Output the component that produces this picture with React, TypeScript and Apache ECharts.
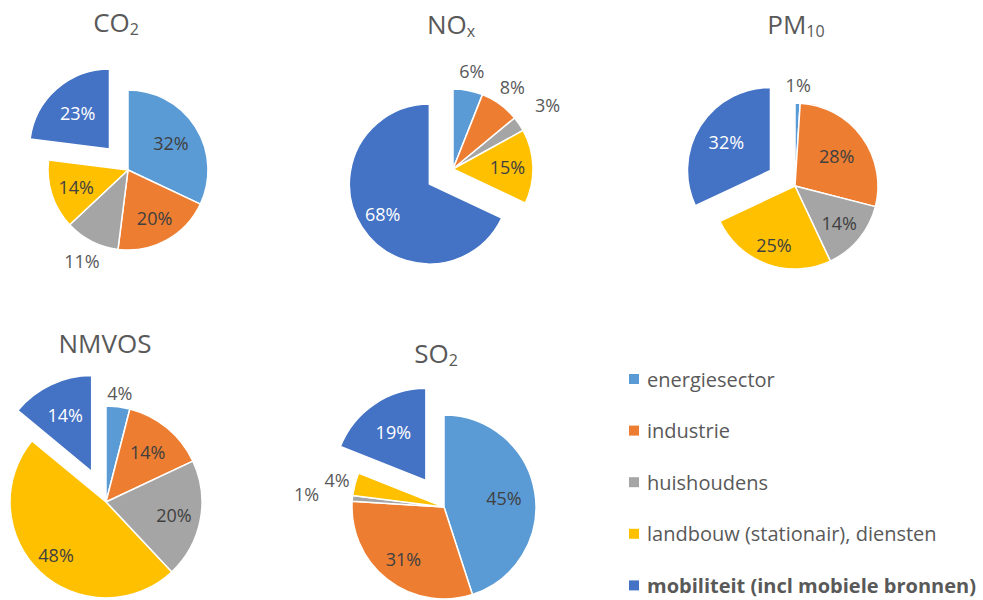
import React, { useEffect, useRef } from 'react';
import * as echarts from 'echarts';

// ---- data ----
const categories = [
  'energiesector',
  'industrie',
  'huishoudens',
  'landbouw (stationair), diensten',
  'mobiliteit (incl mobiele bronnen)',
];
const co2 = [32, 20, 11, 14, 23];
const nox = [6, 8, 3, 15, 68];
const pm10 = [1, 28, 14, 25, 32];
const nmvos = [4, 14, 20, 48, 14];
const so2 = [45, 31, 1, 4, 19];

// ---- style / layout ----
const colors = ['#5B9BD5', '#ED7D31', '#A5A5A5', '#FFC000', '#4472C4'];
const EXPLODED = 4; // mobiliteit slice is pulled out
const EXPLODE_RATIO = 0.35;
const FONT = '"Open Sans", Lato, sans-serif';

const pies = [
  { values: co2, main: 'CO', sub: '2', tx: 116, ty: 22, cx: 128, cy: 170, r: 80, labelR: [0.635, 0.69, 1.27, 0.68, 0.6] },
  { values: nox, main: 'NO', sub: 'x', tx: 451, ty: 24, cx: 453, cy: 169, r: 80, labelR: [1.25, 1.26, 1.43, 0.68, 0.69] },
  { values: pm10, main: 'PM', sub: '10', tx: 796, ty: 24, cx: 795, cy: 186, r: 83, labelR: [1.22, 0.62, 0.69, 0.75, 0.63] },
  { values: nmvos, main: 'NMVOS', sub: '', tx: 105, ty: 343, cx: 106, cy: 502, r: 96, labelR: [1.14, 0.68, 0.72, 0.76, 0.65] },
  { values: so2, main: 'SO', sub: '2', tx: 436, ty: 353, cx: 444, cy: 507, r: 92, labelR: [0.66, 0.72, 1.5, 1.2, 0.63] },
];

function midDir(values: number[], i: number): [number, number] {
  const total = values.reduce((a, b) => a + b, 0);
  let before = 0;
  for (let j = 0; j < i; j++) before += values[j];
  const a = ((before + values[i] / 2) / total) * Math.PI * 2;
  return [Math.sin(a), -Math.cos(a)];
}

function buildSeries(p: any) {
  const [ex, ey] = midDir(p.values, EXPLODED);
  const off = EXPLODE_RATIO * p.r;
  const centers: Array<[number, number]> = [
    [p.cx, p.cy],
    [p.cx + ex * off, p.cy + ey * off],
  ];
  return centers.map((c, si) => {
    const isExplodeSeries = si === 1;
    return {
      type: 'pie',
      center: c,
      radius: p.r,
      startAngle: 90,
      clockwise: true,
      avoidLabelOverlap: false,
      silent: true,
      emphasis: { disabled: true },
      labelLine: { show: false },
      label: {
        show: true,
        position: 'inside',
        formatter: '{c}%',
        fontFamily: FONT,
        fontSize: 18,
        color: '#404040',
      },
      data: p.values.map((v: number, i: number) => {
        const visible = isExplodeSeries ? i === EXPLODED : i !== EXPLODED;
        return {
          name: categories[i],
          value: v,
          itemStyle: visible
            ? { color: colors[i], borderColor: '#ffffff', borderWidth: 1.5 }
            : { color: 'rgba(0,0,0,0)', borderWidth: 0 },
          label: visible
            ? { show: true, color: i === EXPLODED ? '#ffffff' : p.labelR[i] > 1 ? '#595959' : '#404040' }
            : { show: false },
        };
      }),
      labelLayout: (params: any) => {
        const i = params.dataIndex;
        const [ux, uy] = midDir(p.values, i);
        const k = p.labelR[i] * p.r;
        return { x: c[0] + ux * k, y: c[1] + uy * k, align: 'center', verticalAlign: 'middle' };
      },
    };
  });
}

export default function App() {
  const ref = useRef<HTMLDivElement>(null);
  useEffect(() => {
    if (!ref.current) return;
    const chart = echarts.init(ref.current, undefined, { renderer: 'svg' });
    const series: any[] = [];
    pies.forEach((p) => series.push(...buildSeries(p)));
    chart.setOption({
      animation: false,
      backgroundColor: '#ffffff',
      legend: {
        orient: 'vertical',
        left: 629,
        top: 368,
        height: 232,
        padding: 0,
        itemWidth: 10,
        itemHeight: 10,
        itemGap: 29.6,
        icon: 'rect',
        selectedMode: false,
        textStyle: { fontFamily: FONT, fontSize: 20, color: '#595959', lineHeight: 22, padding: [0, 0, 0, 3] },
        data: categories.map((c, i) => ({
          name: c,
          itemStyle: { color: colors[i], borderWidth: 0 },
          textStyle: i === EXPLODED ? { fontWeight: 'bold' } : {},
        })),
      },
      graphic: pies.map((p) => ({
        type: 'text',
        x: p.tx,
        y: p.ty,
        style: {
          text: p.sub ? `{m|${p.main}}{s|${p.sub}}` : `{m|${p.main}}`,
          align: 'center',
          verticalAlign: 'middle',
          fill: '#595959',
          fontFamily: FONT,
          fontSize: 26,
          rich: {
            m: { fontSize: 26, lineHeight: 30, fontFamily: FONT, fill: '#595959' },
            s: { fontSize: 16, lineHeight: 15, fontFamily: FONT, fill: '#595959', verticalAlign: 'bottom' },
          },
        },
      })),
      series,
    });
    return () => chart.dispose();
  }, []);
  return (
    <div
      ref={ref}
      style={{ position: 'fixed', left: 0, top: 0, width: 983, height: 600, background: '#fff' }}
    />
  );
}
